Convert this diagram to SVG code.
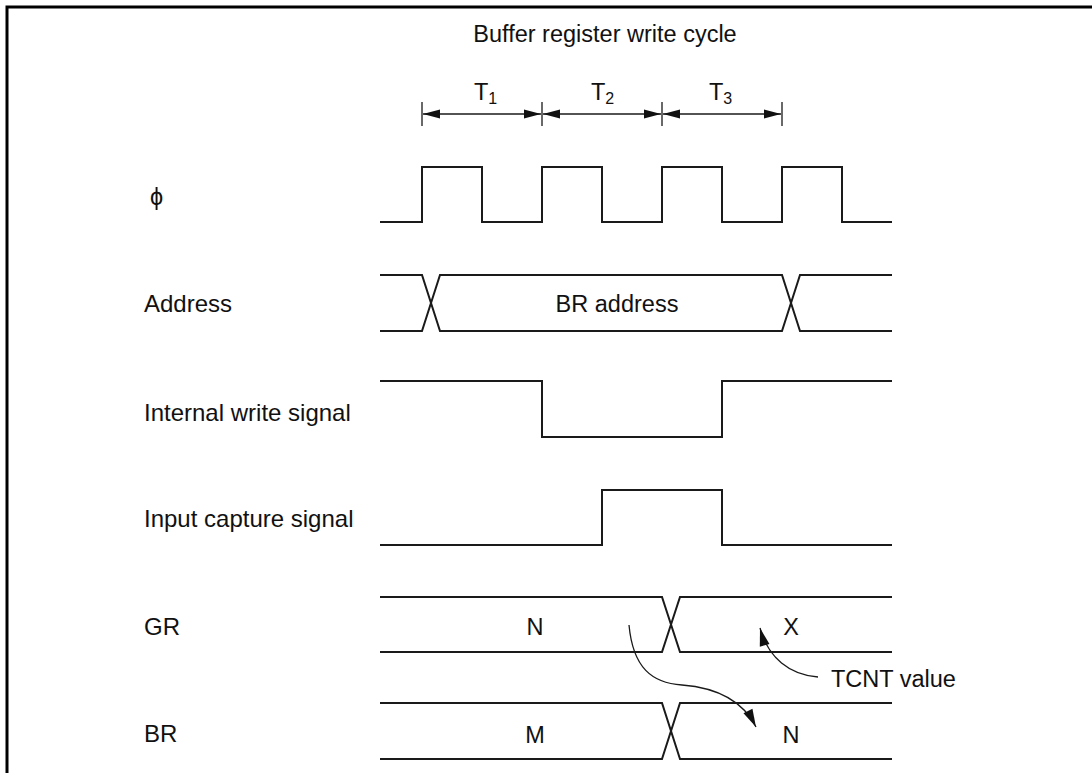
<svg xmlns="http://www.w3.org/2000/svg" width="1092" height="773" viewBox="0 0 1092 773">
<defs>
<style>
.sig{fill:none;stroke:#1a1a1a;stroke-width:2;stroke-linejoin:miter}
.thin{fill:none;stroke:#1a1a1a;stroke-width:1.3}
.lbl{font-family:"Liberation Sans",Arial,sans-serif;font-size:23.5px;fill:#111}
.side{font-size:24px}
.ctr{text-anchor:middle}
.frame{fill:none;stroke:#000;stroke-width:3}
</style>
<marker id="dim" viewBox="-18 -6 20 12" markerWidth="20" markerHeight="12" refX="0" refY="0" orient="auto-start-reverse" markerUnits="userSpaceOnUse">
<path d="M0,0 L-17,-4.5 L-17,4.5 Z" fill="#111"/>
</marker>
<marker id="head" viewBox="-19 -7 21 14" markerWidth="21" markerHeight="14" refX="0" refY="0" orient="auto" markerUnits="userSpaceOnUse">
<path d="M0,0 L-18,-5 L-18,5 Z" fill="#111"/>
</marker>
</defs>
<rect width="1092" height="773" fill="#fff"/>
<path class="frame" d="M7,773 V7 H1092"/>

<g id="title">
<text class="lbl ctr" x="605" y="42">Buffer register write cycle</text>
</g>

<g id="dimension">
<path class="thin" d="M422,102 V126 M542,102 V126 M662,102 V126 M782,102 V126"/>
<path class="thin" d="M423,114 H541" marker-start="url(#dim)" marker-end="url(#dim)"/>
<path class="thin" d="M543,114 H661" marker-start="url(#dim)" marker-end="url(#dim)"/>
<path class="thin" d="M663,114 H781" marker-start="url(#dim)" marker-end="url(#dim)"/>
<text class="lbl" x="474" y="100">T<tspan font-size="16" dy="4">1</tspan></text>
<text class="lbl" x="591" y="100">T<tspan font-size="16" dy="4">2</tspan></text>
<text class="lbl" x="709" y="100">T<tspan font-size="16" dy="4">3</tspan></text>
</g>

<g id="phi">
<text class="lbl" x="150" y="205" font-size="19">ϕ</text>
<path class="sig" d="M380,222 H422 V167 H482 V222 H542 V167 H602 V222 H662 V167 H722 V222 H782 V167 H842 V222 H892"/>
</g>

<g id="address">
<text class="lbl side" x="144" y="312">Address</text>
<path class="sig" d="M380,275 H422 L440,331 H782 L800,275 H892"/>
<path class="sig" d="M380,331 H422 L440,275 H782 L800,331 H892"/>
<text class="lbl ctr" x="617" y="312">BR address</text>
</g>

<g id="internal-write">
<text class="lbl side" x="144" y="421">Internal write signal</text>
<path class="sig" d="M380,381 H542 V437 H722 V381 H892"/>
</g>

<g id="input-capture">
<text class="lbl side" x="144" y="527">Input capture signal</text>
<path class="sig" d="M380,545 H602 V490 H722 V545 H892"/>
</g>

<g id="gr">
<text class="lbl side" x="144" y="635">GR</text>
<path class="sig" d="M380,597 H662 L680,652 H892"/>
<path class="sig" d="M380,652 H662 L680,597 H892"/>
<text class="lbl ctr" x="535" y="635">N</text>
<text class="lbl ctr" x="791" y="635">X</text>
</g>

<g id="br">
<text class="lbl side" x="144" y="742">BR</text>
<path class="sig" d="M380,703 H662 L680,759 H892"/>
<path class="sig" d="M380,759 H662 L680,703 H892"/>
<text class="lbl ctr" x="535" y="743">M</text>
<text class="lbl ctr" x="791" y="743">N</text>
</g>

<g id="tcnt-label">
<text class="lbl" x="831" y="687">TCNT value</text>
</g>

<g id="connectors">
<path class="thin" d="M629,625 C633,668 652,683 682,685 C720,688 744,703 756,727" marker-end="url(#head)"/>
<path class="thin" d="M818,677 C790,675 768,658 760,628" marker-end="url(#head)"/>
</g>
</svg>
